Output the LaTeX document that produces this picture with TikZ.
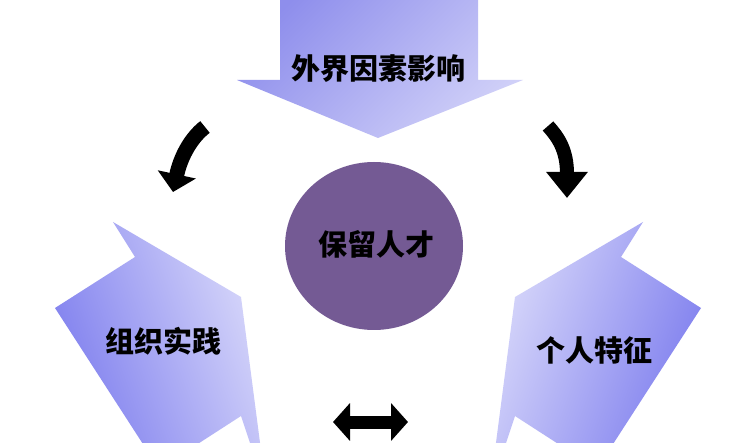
\documentclass[tikz,border=0pt]{standalone}
\usepackage{fontspec}
\newfontfamily\cjk{Noto Sans CJK SC}
\usetikzlibrary{arrows.meta,shapes.geometric}
\definecolor{darkv}{RGB}{125,125,238}
\definecolor{lightv}{RGB}{216,216,250}
\definecolor{topdark}{RGB}{142,142,236}
\definecolor{toplight}{RGB}{208,208,248}
\definecolor{circv}{RGB}{116,90,148}
\tikzset{
  lbl/.style={font=\cjk\bfseries\fontsize{29}{29}\selectfont, text=black, inner sep=0pt},
  bigshape/.style={draw=none},
  curvearr/.style={line width=#1, black},
}
\begin{document}
\begin{tikzpicture}[x=1pt,y=-1pt]
\useasboundingbox (0,0) rectangle (744,443);
\clip (0,0) rectangle (744,443);
\fill[white] (0,0) rectangle (744,443);
% top arrow
\shade[bigshape, top color=topdark, bottom color=toplight, shading angle=45]
  (280,-10) -- (478,-10) -- (478,80) -- (523,80) -- (378,138) -- (237,80) -- (280,80) -- cycle;
% left shape
\shade[bigshape, left color=darkv, right color=lightv, shading angle=110]
  (113,222) -- (241,297) -- (262,458) -- (255,458) -- (241,416) -- (176,458) -- (152,458) -- (55,308) -- (135,257) -- cycle;
% right shape
\shade[bigshape, left color=lightv, right color=darkv, shading angle=70]
  (643,222) -- (515,297) -- (494,458) -- (501,458) -- (515,416) -- (580,458) -- (604,458) -- (701,308) -- (621,257) -- cycle;
% center circle
\node[ellipse, fill=circv, draw=none, minimum width=178pt, minimum height=168pt, inner sep=0pt] (core) at (374,246) {};
% labels
\node[lbl] (ext) at (378,69) {外界因素影响};
\node[lbl] (org) at (163,341) {组织实践};
\node[lbl] (ind) at (594,350) {个人特征};
\node[lbl] (ret) at (376,244) {保留人才};
% curved arrows
\coordinate (la) at (205,127);
\coordinate (lb) at (173,192);
\coordinate (ra) at (548,126);
\coordinate (rb) at (567,198);
\coordinate (ba) at (333,422);
\coordinate (bb) at (408,422);
\draw[curvearr=15pt, -{Triangle[length=18pt,width=38pt]}] (la) .. controls (192,137) and (181,155) .. (lb);
\draw[curvearr=14pt, -{Triangle[length=26pt,width=40pt]}] (ra) .. controls (558,137) and (567,150) .. (rb);
\draw[curvearr=13pt, {Triangle[length=17pt,width=37pt]}-{Triangle[length=17pt,width=37pt]}] (ba) -- (bb);
\end{tikzpicture}
\end{document}
